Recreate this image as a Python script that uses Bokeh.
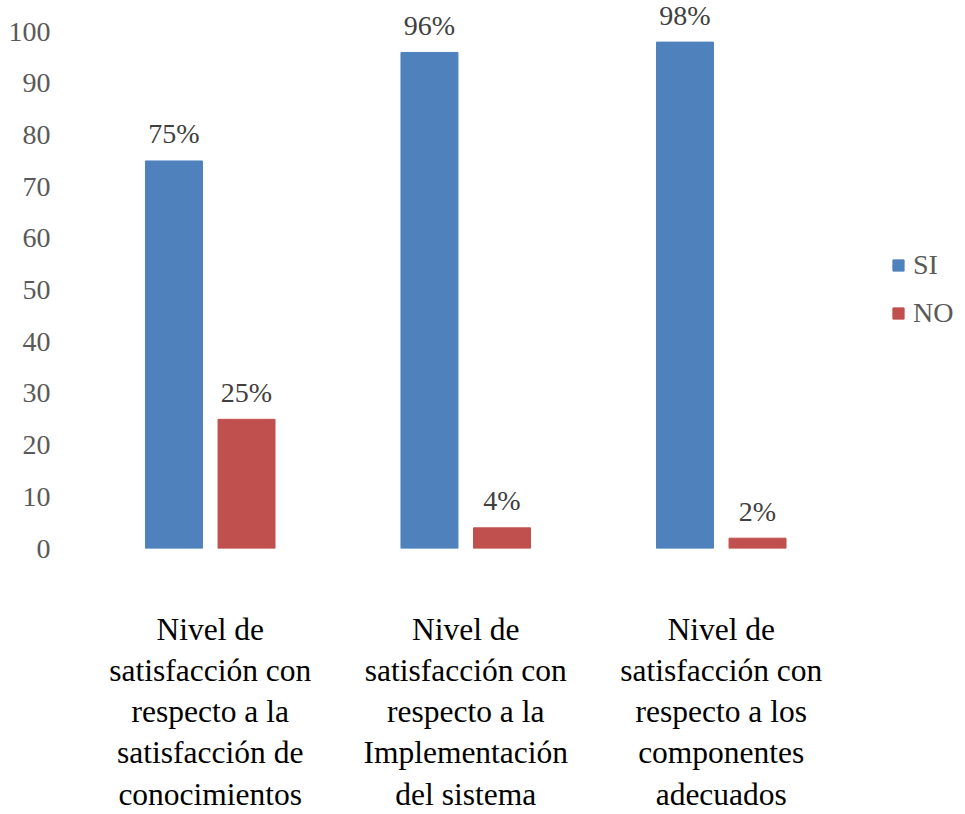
from bokeh.plotting import figure
from bokeh.models import ColumnDataSource, FixedTicker, Range1d, Legend, LegendItem
from bokeh.transform import dodge
from bokeh.core.properties import value
from bokeh.embed import file_html
from bokeh.resources import INLINE

categories = [
    "Nivel de\nsatisfacción con\nrespecto a la\nsatisfacción de\nconocimientos",
    "Nivel de\nsatisfacción con\nrespecto a la\nImplementación\ndel sistema",
    "Nivel de\nsatisfacción con\nrespecto a los\ncomponentes\nadecuados",
]
si_values = [75, 96, 98]
no_values = [25, 4, 2]
si_labels = ["75%", "96%", "98%"]
no_labels = ["25%", "4%", "2%"]
y_ticks = [0, 10, 20, 30, 40, 50, 60, 70, 80, 90, 100]
series_names = ["SI", "NO"]

BLUE = "#4F81BD"
RED = "#C0504D"
FONT = "Liberation Serif"

xs = [i + 0.5 for i in range(len(categories))]
src = ColumnDataSource(dict(x=xs, si=si_values, no=no_values, si_lbl=si_labels, no_lbl=no_labels))

p = figure(width=965, height=814, output_backend="svg", toolbar_location=None,
           x_range=Range1d(0, (965 - 82) / 255.5), y_range=Range1d(0, 548.3 / 5.17),
           min_border_left=82, min_border_right=0, min_border_top=0, min_border_bottom=266)
p.outline_line_color = None
p.xgrid.visible = False
p.ygrid.visible = False

off = 0.142
w = 0.223
r_si = p.vbar(x=dodge("x", -off), top="si", width=w, source=src, fill_color=BLUE, line_color=BLUE)
r_no = p.vbar(x=dodge("x", off), top="no", width=w, source=src, fill_color=RED, line_color=RED)

for col, lbl, dx in (("si", "si_lbl", -off), ("no", "no_lbl", off)):
    p.text(x=dodge("x", dx), y=col, text=lbl, source=src, text_align="center",
           text_baseline="alphabetic", y_offset=-27, text_font=value(FONT),
           text_font_size="28px", text_color="#404040")

# y axis
ya = p.yaxis[0]
ya.ticker = FixedTicker(ticks=y_ticks)
ya.axis_line_color = None
ya.major_tick_line_color = None
ya.minor_tick_line_color = None
ya.major_label_text_font = FONT
ya.major_label_text_font_size = "28px"
ya.major_label_text_color = "#595959"
ya.major_label_standoff = 26

# x axis
xa = p.xaxis[0]
xa.ticker = FixedTicker(ticks=xs)
xa.major_label_overrides = {x: c for x, c in zip(xs, categories)}
xa.axis_line_color = None
xa.major_tick_line_color = None
xa.minor_tick_line_color = None
xa.major_label_text_font = FONT
xa.major_label_text_font_size = "31.5px"
xa.major_label_text_color = "black"
xa.major_label_text_line_height = 1.18
xa.major_label_standoff = 57

legend = Legend(items=[LegendItem(label=series_names[0], renderers=[r_si]),
                       LegendItem(label=series_names[1], renderers=[r_no])],
                location=(809, 218))
legend.border_line_color = None
legend.background_fill_color = None
legend.padding = 0
legend.margin = 0
legend.glyph_width = 14
legend.glyph_height = 14
legend.label_height = 34
legend.spacing = 14
legend.label_standoff = 8
legend.label_text_font = FONT
legend.label_text_font_size = "28px"
legend.label_text_color = "#595959"
p.add_layout(legend)

open("out.html", "w").write(file_html(p, INLINE))
